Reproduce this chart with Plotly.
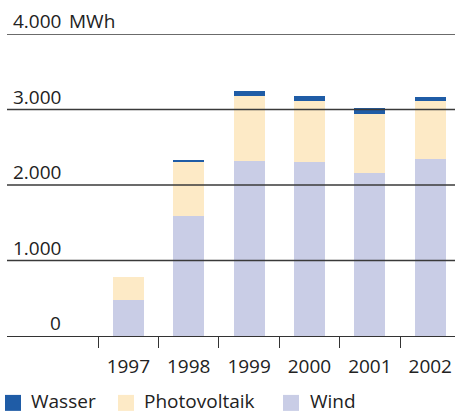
import plotly.graph_objects as go

years = ["1997", "1998", "1999", "2000", "2001", "2002"]
wind = [475, 1590, 2315, 2300, 2155, 2340]
photovoltaik = [310, 710, 870, 810, 780, 770]
wasser = [0, 28, 55, 65, 80, 53]

y_ticks = [0, 1000, 2000, 3000, 4000]
y_labels = ["0", "1.000", "2.000", "3.000", "4.000"]
unit = "MWh"

series_names = ["Wasser", "Photovoltaik", "Wind"]
series_colors = ["#1f5ca6", "#fdeac6", "#c9cde6"]

FONT = "Open Sans"
TXT = "#222222"
W, H = 455, 412
ML, MR, MT, MB = 7, 0, 33.5, 76
PW, PH = W - ML - MR, H - MT - MB


def px_x(px):
    return (px - ML) / PW


def px_y(py):
    return (H - MB - py) / PH


fig = go.Figure()
fig.add_bar(x=years, y=wind, name="Wind", marker_color=series_colors[2], marker_line_width=0, width=0.513)
fig.add_bar(x=years, y=photovoltaik, name="Photovoltaik", marker_color=series_colors[1], marker_line_width=0, width=0.513)
fig.add_bar(x=years, y=wasser, name="Wasser", marker_color=series_colors[0], marker_line_width=0, width=0.513)

shapes = []
for v in y_ticks[1:]:
    shapes.append(dict(type="line", xref="paper", x0=0, x1=1, yref="y", y0=v, y1=v,
                       line=dict(color="#3a3a3a", width=1.3), layer="above"))

annotations = []
for v, lab in zip(y_ticks, y_labels):
    annotations.append(dict(xref="paper", x=px_x(63), yref="y", y=v, text=lab, showarrow=False,
                            xanchor="right", yanchor="bottom", yshift=-2,
                            font=dict(family=FONT, size=19, color=TXT)))
annotations.append(dict(xref="paper", x=px_x(67), yref="y", y=y_ticks[-1], text=unit, showarrow=False,
                        xanchor="left", yanchor="bottom", yshift=-2,
                        font=dict(family=FONT, size=19, color=TXT)))

# manual legend
leg_sq_x = [5, 118, 283]
leg_tx_x = [29, 142, 308]
for name, col, sx, tx in zip(series_names, series_colors, leg_sq_x, leg_tx_x):
    shapes.append(dict(type="rect", xref="paper", yref="paper",
                       x0=px_x(sx), x1=px_x(sx + 16), y0=px_y(411), y1=px_y(395),
                       fillcolor=col, line=dict(width=0), layer="above"))
    annotations.append(dict(xref="paper", yref="paper", x=px_x(tx), y=px_y(401), text=name,
                            showarrow=False, xanchor="left", yanchor="middle",
                            font=dict(family=FONT, size=19, color=TXT)))

fig.update_layout(
    width=W, height=H,
    margin=dict(l=ML, r=MR, t=MT, b=MB),
    paper_bgcolor="white", plot_bgcolor="white",
    barmode="stack", bargap=0,
    font=dict(family=FONT, size=19, color=TXT),
    xaxis=dict(type="category", range=[-2.01, 5.41], tickson="boundaries",
               ticks="outside", ticklen=11, tickcolor="#333333", tickwidth=1.3,
               ticklabelstandoff=13,
               showline=True, linecolor="#333333", linewidth=1.3, showgrid=False,
               tickfont=dict(family=FONT, size=19, color=TXT), fixedrange=True),
    yaxis=dict(range=[0, 4000], showgrid=False, zeroline=False, showticklabels=False,
               fixedrange=True),
    shapes=shapes, annotations=annotations, showlegend=False,
)

fig.write_html("out.html", config={"displayModeBar": False},
               post_script="document.body.style.margin='0';document.body.style.overflow='hidden';")
